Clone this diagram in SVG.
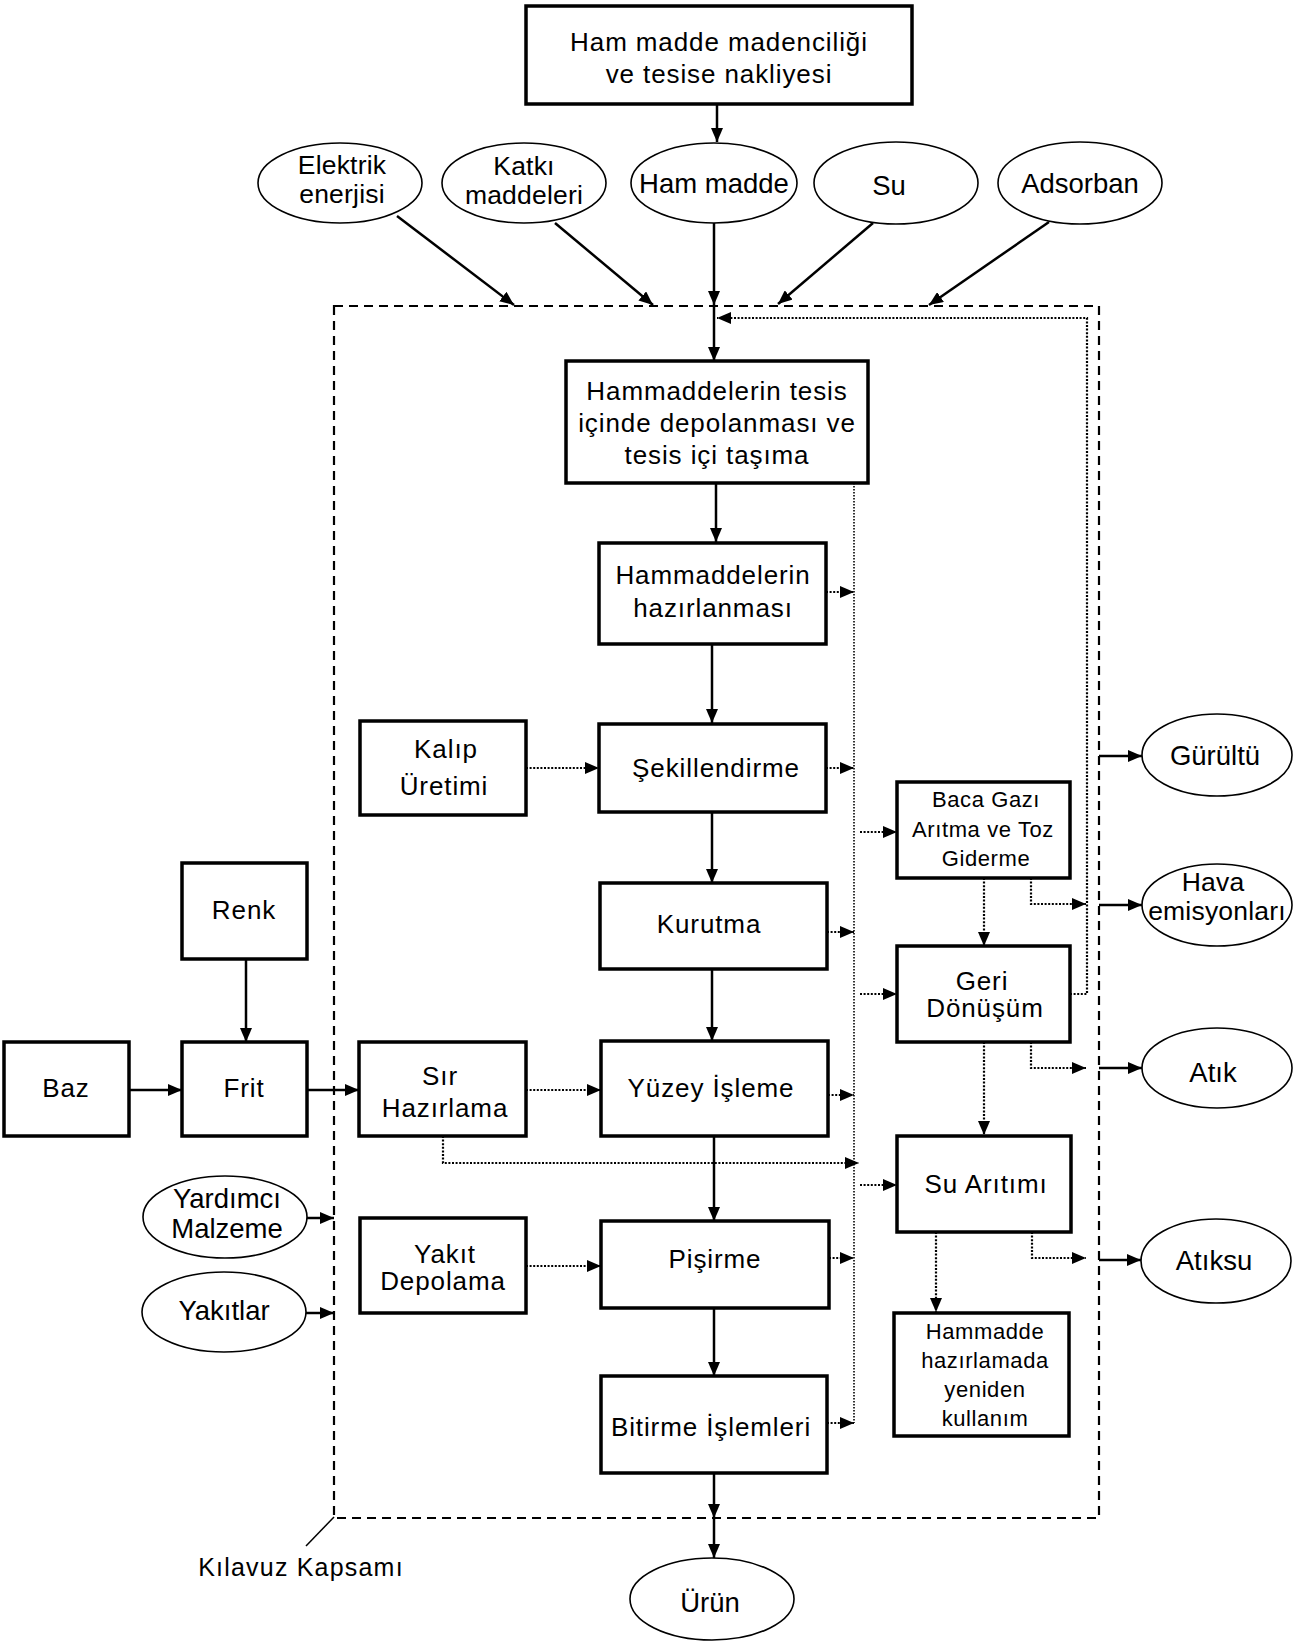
<svg xmlns="http://www.w3.org/2000/svg" width="1295" height="1650" viewBox="0 0 1295 1650">
<defs>
<style>
text{font-family:"Liberation Sans",Arial,sans-serif;font-size:26px;letter-spacing:0.9px;fill:#000;text-anchor:middle}
.el{font-size:27.5px;letter-spacing:0}
.el2{font-size:26.5px;letter-spacing:0.2px}
.sm{font-size:22px;letter-spacing:0.6px}
.box{fill:#fff;stroke:#000;stroke-width:3.5}
.ell{fill:#fff;stroke:#000;stroke-width:1.6}
.sol{fill:none;stroke:#000;stroke-width:2.5}
.dot{fill:none;stroke:#000;stroke-width:2.2;stroke-dasharray:2 1.6}
.vdot{fill:none;stroke:#000;stroke-width:1.6;stroke-dasharray:1.6 1.4}
.dash{fill:none;stroke:#000;stroke-width:2.2;stroke-dasharray:9 6}
</style>
<marker id="arr" viewBox="0 0 14 12" refX="14" refY="6" markerWidth="14" markerHeight="12" markerUnits="userSpaceOnUse" orient="auto"><path d="M0,0 L14,6 L0,12 z" fill="#000"/></marker>
</defs>
<rect width="1295" height="1650" fill="#fff"/>

<g id="scope">
<rect class="dash" x="334" y="306" width="765" height="1212"/>
<line x1="334" y1="1517" x2="306" y2="1546" stroke="#000" stroke-width="1.5"/>
<text x="301" y="1576" style="font-size:25px;letter-spacing:1.2px">Kılavuz Kapsamı</text>
</g>

<g id="connectors">
<line class="sol" x1="717" y1="104" x2="717" y2="142" marker-end="url(#arr)"/>
<line class="sol" x1="397" y1="216" x2="514" y2="305" marker-end="url(#arr)"/>
<line class="sol" x1="555" y1="223" x2="653" y2="305" marker-end="url(#arr)"/>
<line class="sol" x1="714" y1="223" x2="714" y2="305" marker-end="url(#arr)"/>
<line class="sol" x1="714" y1="305" x2="714" y2="361" marker-end="url(#arr)"/>
<line class="sol" x1="873" y1="223" x2="778" y2="304" marker-end="url(#arr)"/>
<line class="sol" x1="1049" y1="222" x2="929" y2="305" marker-end="url(#arr)"/>
<polyline class="dot" points="1070,994 1087,994 1087,318 717,318" marker-end="url(#arr)"/>
<line class="sol" x1="716" y1="483" x2="716" y2="542" marker-end="url(#arr)"/>
<line class="sol" x1="712" y1="644" x2="712" y2="723" marker-end="url(#arr)"/>
<line class="sol" x1="712" y1="812" x2="712" y2="883" marker-end="url(#arr)"/>
<line class="sol" x1="712" y1="969" x2="712" y2="1041" marker-end="url(#arr)"/>
<line class="sol" x1="714" y1="1136" x2="714" y2="1221" marker-end="url(#arr)"/>
<line class="sol" x1="714" y1="1308" x2="714" y2="1376" marker-end="url(#arr)"/>
<line class="sol" x1="714" y1="1473" x2="714" y2="1518" marker-end="url(#arr)"/>
<line class="sol" x1="714" y1="1518" x2="714" y2="1558" marker-end="url(#arr)"/>
<line class="vdot" x1="854" y1="483" x2="854" y2="1423"/>
<line class="dot" x1="826" y1="592" x2="854" y2="592" marker-end="url(#arr)"/>
<line class="dot" x1="826" y1="768" x2="854" y2="768" marker-end="url(#arr)"/>
<line class="dot" x1="827" y1="932" x2="854" y2="932" marker-end="url(#arr)"/>
<line class="dot" x1="828" y1="1095" x2="854" y2="1095" marker-end="url(#arr)"/>
<line class="dot" x1="829" y1="1258" x2="854" y2="1258" marker-end="url(#arr)"/>
<line class="dot" x1="827" y1="1423" x2="854" y2="1423" marker-end="url(#arr)"/>
<line class="dot" x1="526" y1="768" x2="599" y2="768" marker-end="url(#arr)"/>
<line class="dot" x1="526" y1="1090" x2="601" y2="1090" marker-end="url(#arr)"/>
<line class="dot" x1="526" y1="1266" x2="601" y2="1266" marker-end="url(#arr)"/>
<polyline class="dot" points="443,1136 443,1163 859,1163" marker-end="url(#arr)"/>
<line class="dot" x1="860" y1="832" x2="897" y2="832" marker-end="url(#arr)"/>
<line class="dot" x1="860" y1="994" x2="897" y2="994" marker-end="url(#arr)"/>
<line class="dot" x1="860" y1="1185" x2="897" y2="1185" marker-end="url(#arr)"/>
<line class="dot" x1="984" y1="878" x2="984" y2="946" marker-end="url(#arr)"/>
<polyline class="dot" points="1031,878 1031,904 1086,904" marker-end="url(#arr)"/>
<line class="dot" x1="984" y1="1042" x2="984" y2="1135" marker-end="url(#arr)"/>
<polyline class="dot" points="1031,1042 1031,1068 1086,1068" marker-end="url(#arr)"/>
<line class="dot" x1="936" y1="1232" x2="936" y2="1312" marker-end="url(#arr)"/>
<polyline class="dot" points="1032,1232 1032,1258 1086,1258" marker-end="url(#arr)"/>
<line class="sol" x1="1099" y1="756" x2="1142" y2="756" marker-end="url(#arr)"/>
<line class="sol" x1="1099" y1="905" x2="1142" y2="905" marker-end="url(#arr)"/>
<line class="sol" x1="1099" y1="1068" x2="1142" y2="1068" marker-end="url(#arr)"/>
<line class="sol" x1="1099" y1="1260" x2="1141" y2="1260" marker-end="url(#arr)"/>
<line class="sol" x1="246" y1="959" x2="246" y2="1042" marker-end="url(#arr)"/>
<line class="sol" x1="129" y1="1090" x2="182" y2="1090" marker-end="url(#arr)"/>
<line class="sol" x1="307" y1="1090" x2="359" y2="1090" marker-end="url(#arr)"/>
<line class="sol" x1="306" y1="1218" x2="334" y2="1218" marker-end="url(#arr)"/>
<line class="sol" x1="306" y1="1313" x2="334" y2="1313" marker-end="url(#arr)"/>
</g>

<g id="n-mining"><rect class="box" x="526" y="6" width="386" height="98"/><text x="719" y="51">Ham madde madenciliği</text><text x="719" y="83">ve tesise nakliyesi</text></g>
<g id="n-elektrik"><ellipse class="ell" cx="340" cy="183" rx="82" ry="40"/><text class="el2" x="342" y="174">Elektrik</text><text class="el2" x="342" y="203">enerjisi</text></g>
<g id="n-katki"><ellipse class="ell" cx="524" cy="183" rx="82" ry="40"/><text class="el2" x="524" y="175">Katkı</text><text class="el2" x="524" y="204">maddeleri</text></g>
<g id="n-hammadde"><ellipse class="ell" cx="714" cy="183" rx="83" ry="40"/><text class="el" x="714" y="193">Ham madde</text></g>
<g id="n-su"><ellipse class="ell" cx="896" cy="183" rx="82" ry="41"/><text class="el" x="889" y="195">Su</text></g>
<g id="n-adsorban"><ellipse class="ell" cx="1080" cy="183" rx="82" ry="41"/><text class="el" x="1080" y="193">Adsorban</text></g>

<g id="n-depolama"><rect class="box" x="566" y="361" width="302" height="122"/><text x="717" y="400">Hammaddelerin tesis</text><text x="717" y="432">içinde depolanması ve</text><text x="717" y="464">tesis içi taşıma</text></g>
<g id="n-hazirlanmasi"><rect class="box" x="599" y="543" width="227" height="101"/><text x="713" y="584">Hammaddelerin</text><text x="713" y="617">hazırlanması</text></g>
<g id="n-kalip"><rect class="box" x="360" y="721" width="166" height="94"/><text x="446" y="758">Kalıp</text><text x="444" y="795">Üretimi</text></g>
<g id="n-sekillendirme"><rect class="box" x="599" y="724" width="227" height="88"/><text x="716" y="777">Şekillendirme</text></g>
<g id="n-kurutma"><rect class="box" x="600" y="883" width="227" height="86"/><text x="709" y="933">Kurutma</text></g>
<g id="n-renk"><rect class="box" x="182" y="863" width="125" height="96"/><text x="244" y="919">Renk</text></g>
<g id="n-baz"><rect class="box" x="4" y="1042" width="125" height="94"/><text x="66" y="1097">Baz</text></g>
<g id="n-frit"><rect class="box" x="182" y="1042" width="125" height="94"/><text x="244" y="1097">Frit</text></g>
<g id="n-sir"><rect class="box" x="359" y="1042" width="167" height="94"/><text x="440" y="1085">Sır</text><text x="445" y="1117">Hazırlama</text></g>
<g id="n-yuzey"><rect class="box" x="601" y="1041" width="227" height="95"/><text x="711" y="1097">Yüzey İşleme</text></g>
<g id="n-yardimci"><ellipse class="ell" cx="225" cy="1217" rx="82" ry="41"/><text class="el" x="227" y="1208">Yardımcı</text><text class="el" x="227" y="1238">Malzeme</text></g>
<g id="n-yakitlar"><ellipse class="ell" cx="224" cy="1312" rx="82" ry="40"/><text class="el" x="224" y="1320">Yakıtlar</text></g>
<g id="n-yakitdepo"><rect class="box" x="360" y="1218" width="166" height="95"/><text x="445" y="1263">Yakıt</text><text x="443" y="1290">Depolama</text></g>
<g id="n-pisirme"><rect class="box" x="601" y="1221" width="228" height="87"/><text x="715" y="1268">Pişirme</text></g>
<g id="n-bitirme"><rect class="box" x="601" y="1376" width="226" height="97"/><text x="711" y="1436">Bitirme İşlemleri</text></g>
<g id="n-urun"><ellipse class="ell" cx="712" cy="1599" rx="82" ry="41"/><text class="el" x="710" y="1612">Ürün</text></g>

<g id="n-baca"><rect class="box" x="897" y="782" width="173" height="96"/><text class="sm" x="986" y="807">Baca Gazı</text><text class="sm" x="983" y="837">Arıtma ve Toz</text><text class="sm" x="986" y="866">Giderme</text></g>
<g id="n-geri"><rect class="box" x="897" y="946" width="173" height="96"/><text x="982" y="990">Geri</text><text x="985" y="1017">Dönüşüm</text></g>
<g id="n-suaritimi"><rect class="box" x="897" y="1136" width="174" height="96"/><text x="986" y="1193">Su Arıtımı</text></g>
<g id="n-yenidenkullanim"><rect class="box" x="894" y="1313" width="175" height="123"/><text class="sm" x="985" y="1339">Hammadde</text><text class="sm" x="985" y="1368">hazırlamada</text><text class="sm" x="985" y="1397">yeniden</text><text class="sm" x="985" y="1426">kullanım</text></g>
<g id="n-gurultu"><ellipse class="ell" cx="1217" cy="755" rx="75" ry="41"/><text class="el" x="1215" y="765">Gürültü</text></g>
<g id="n-hava"><ellipse class="ell" cx="1217" cy="905" rx="75" ry="41"/><text class="el2" x="1213" y="891">Hava</text><text class="el2" x="1217" y="920">emisyonları</text></g>
<g id="n-atik"><ellipse class="ell" cx="1217" cy="1068" rx="75" ry="40"/><text class="el" x="1213" y="1082">Atık</text></g>
<g id="n-atiksu"><ellipse class="ell" cx="1216" cy="1261" rx="75" ry="42"/><text class="el" x="1214" y="1270">Atıksu</text></g>
</svg>
